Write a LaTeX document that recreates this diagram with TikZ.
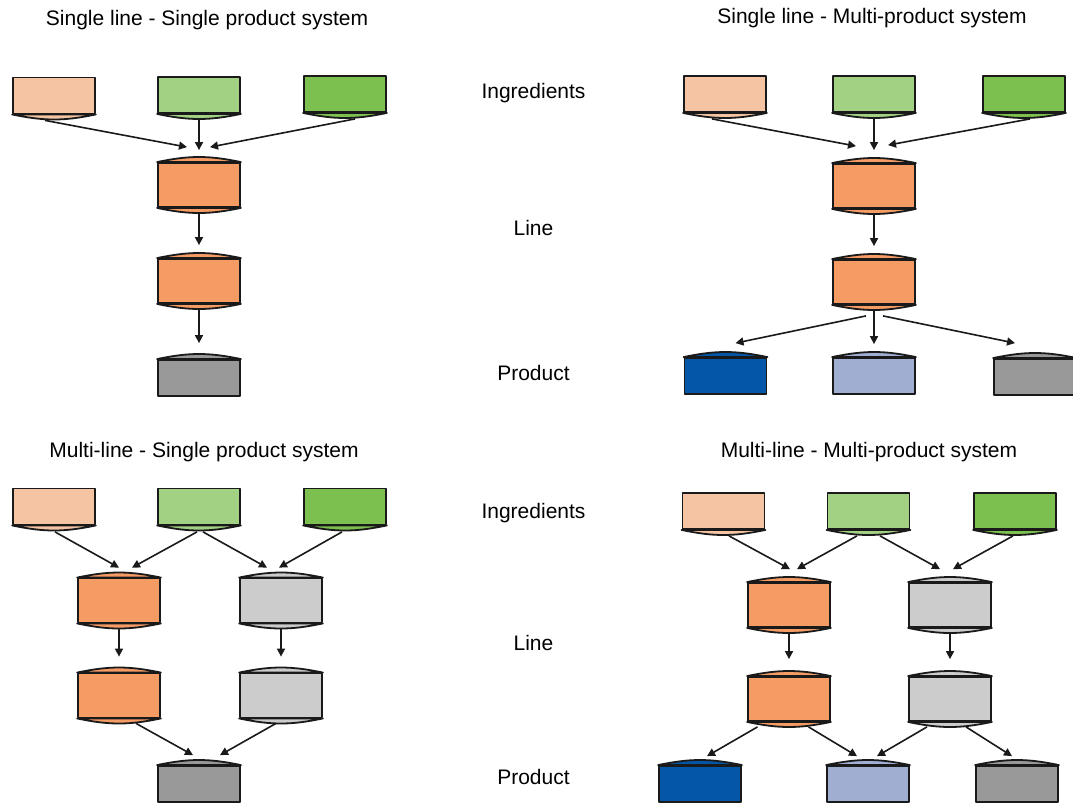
\documentclass[tikz,border=0pt]{standalone}
\usepackage{fontspec}
\setmainfont{Liberation Sans}
\usetikzlibrary{arrows.meta}
\definecolor{peach}{RGB}{245,197,163}
\definecolor{lgreen}{RGB}{163,209,132}
\definecolor{dgreen}{RGB}{124,192,80}
\definecolor{orng}{RGB}{244,156,100}
\definecolor{pgray}{RGB}{153,153,153}
\definecolor{lgray}{RGB}{204,204,204}
\definecolor{dblue}{RGB}{4,87,168}
\definecolor{lblue}{RGB}{160,174,210}
\definecolor{edge}{RGB}{26,26,26}
\tikzset{
  capline/.style={draw=edge, line width=1.8pt, line join=round},
  ingr/.style={capline, minimum width=82pt, minimum height=36pt, inner sep=0pt},
  tank/.style={capline, minimum width=82pt, minimum height=44pt, inner sep=0pt},
  prod/.style={capline, minimum width=82pt, minimum height=36pt, inner sep=0pt},
  feed/.style={draw=edge, line width=1.6pt, -{Triangle[length=8pt,width=8pt]}},
  lbl/.style={anchor=base, font=\fontsize{21}{25}\selectfont, text=black}
}
\newcommand{\ingbox}[4]{%
  \node[ingr, fill=#4] (#1) at (#2,#3) {};
  \filldraw[capline, fill=#4] (#1.south west) to[bend right=12] (#1.south east) -- cycle;}
\newcommand{\linetank}[4]{%
  \node[tank, fill=#4] (#1) at (#2,#3) {};
  \filldraw[capline, fill=#4] (#1.north west) to[bend left=12] (#1.north east) -- cycle;
  \filldraw[capline, fill=#4] (#1.south west) to[bend right=12] (#1.south east) -- cycle;}
\newcommand{\prodtank}[4]{%
  \node[prod, fill=#4] (#1) at (#2,#3) {};
  \filldraw[capline, fill=#4] (#1.north west) to[bend left=12] (#1.north east) -- cycle;}
\begin{document}
\begin{tikzpicture}[x=1pt, y=-1pt]
      \path[use as bounding box, fill=white] (0,0) rectangle (1073,804);
      \node[lbl] (titleSS) at (207,25) {Single line - Single product system};
      \node[lbl] (titleSM) at (872,23.5) {Single line - Multi-product system};
      \node[lbl] (titleMS) at (204,457) {Multi-line - Single product system};
      \node[lbl] (titleMM) at (869,457) {Multi-line - Multi-product system};
      \node[lbl] (ingTop) at (533.5,98) {Ingredients};
      \node[lbl] (lineTop) at (533.5,235) {Line};
      \node[lbl] (prodTop) at (533.5,380.5) {Product};
      \node[lbl] (ingBot) at (533.5,518) {Ingredients};
      \node[lbl] (lineBot) at (533.5,650.5) {Line};
      \node[lbl] (prodBot) at (533.5,784.5) {Product};
      \ingbox{ssA}{54}{95.5}{peach}
      \ingbox{ssB}{199}{95}{lgreen}
      \ingbox{ssC}{345}{94}{dgreen}
      \linetank{ssL1}{199}{185}{orng}
      \linetank{ssL2}{199}{281}{orng}
      \prodtank{ssP}{199}{378}{pgray}
      \draw[feed] ([xshift=-9pt,yshift=-6pt]ssA.south) -- ([xshift=-12pt,yshift=15pt]ssL1.north);
      \draw[feed] ([yshift=-6pt]ssB.south) -- ([yshift=12pt]ssL1.north);
      \draw[feed] ([xshift=10pt,yshift=-6pt]ssC.south) -- ([xshift=11pt,yshift=15pt]ssL1.north);
      \draw[feed] ([yshift=-5pt]ssL1.south) -- ([yshift=13pt]ssL2.north);
      \draw[feed] ([yshift=-5pt]ssL2.south) -- ([yshift=16pt]ssP.north);
      \ingbox{smA}{725}{94}{peach}
      \ingbox{smB}{874}{94}{lgreen}
      \ingbox{smC}{1024}{94}{dgreen}
      \linetank{smL1}{874}{186}{orng}
      \linetank{smL2}{874}{282}{orng}
      \prodtank{smP1}{725.5}{376}{dblue}
      \prodtank{smP2}{874}{376}{lblue}
      \prodtank{smP3}{1035}{377}{pgray}
      \draw[feed] ([xshift=-13pt,yshift=-6pt]smA.south) -- ([xshift=-18pt,yshift=17pt]smL1.north);
      \draw[feed] ([yshift=-6pt]smB.south) -- ([yshift=13pt]smL1.north);
      \draw[feed] ([xshift=6pt,yshift=-6pt]smC.south) -- ([xshift=14pt,yshift=18pt]smL1.north);
      \draw[feed] ([yshift=-5pt]smL1.south) -- ([yshift=13pt]smL2.north);
      \draw[feed] ([xshift=-8pt,yshift=-11pt]smL2.south) -- ([xshift=10pt,yshift=14pt]smP1.north);
      \draw[feed] ([yshift=-6pt]smL2.south) -- ([yshift=13pt]smP2.north);
      \draw[feed] ([xshift=9pt,yshift=-11pt]smL2.south) -- ([xshift=-20pt,yshift=15pt]smP3.north);
      \ingbox{msA}{54}{506.5}{peach}
      \ingbox{msB}{199}{506.5}{lgreen}
      \ingbox{msC}{345}{506.5}{dgreen}
      \linetank{msL1}{119}{600.5}{orng}
      \linetank{msL2}{281}{600.5}{lgray}
      \linetank{msL3}{119}{695.5}{orng}
      \linetank{msL4}{281}{695.5}{lgray}
      \prodtank{msP}{199}{784}{pgray}
      \draw[feed] ([xshift=1pt,yshift=-6.5pt]msA.south) -- ([yshift=10pt]msL1.north);
      \draw[feed] ([xshift=-2pt,yshift=-6.5pt]msB.south) -- ([xshift=13pt,yshift=10pt]msL1.north);
      \draw[feed] ([xshift=4pt,yshift=-6.5pt]msB.south) -- ([xshift=-14pt,yshift=10pt]msL2.north);
      \draw[feed] ([xshift=-3pt,yshift=-6.5pt]msC.south) -- ([xshift=-2pt,yshift=10pt]msL2.north);
      \draw[feed] ([yshift=-5pt]msL1.south) -- ([yshift=16pt]msL3.north);
      \draw[feed] ([yshift=-5pt]msL2.south) -- ([yshift=16pt]msL4.north);
      \draw[feed] ([xshift=17pt,yshift=-5pt]msL3.south) -- ([xshift=-6pt,yshift=10pt]msP.north);
      \draw[feed] ([xshift=-5pt,yshift=-5pt]msL4.south) -- ([xshift=21pt,yshift=10pt]msP.north);
      \ingbox{mmA}{723.5}{511}{peach}
      \ingbox{mmB}{868.5}{511}{lgreen}
      \ingbox{mmC}{1015}{511}{dgreen}
      \linetank{mmL1}{789}{605}{orng}
      \linetank{mmL2}{950}{605}{lgray}
      \linetank{mmL3}{789}{699}{orng}
      \linetank{mmL4}{950}{699}{lgray}
      \prodtank{mmP1}{700}{784}{dblue}
      \prodtank{mmP2}{868}{784}{lblue}
      \prodtank{mmP3}{1017}{784}{pgray}
      \draw[feed] ([xshift=5.5pt,yshift=-6pt]mmA.south) -- ([xshift=1pt,yshift=13pt]mmL1.north);
      \draw[feed] ([xshift=-11.5pt,yshift=-6pt]mmB.south) -- ([xshift=8pt,yshift=13pt]mmL1.north);
      \draw[feed] ([xshift=11.5pt,yshift=-6pt]mmB.south) -- ([xshift=-10pt,yshift=13pt]mmL2.north);
      \draw[feed] ([xshift=-2pt,yshift=-6pt]mmC.south) -- ([xshift=3pt,yshift=13pt]mmL2.north);
      \draw[feed] ([yshift=-5pt]mmL1.south) -- ([yshift=17pt]mmL3.north);
      \draw[feed] ([yshift=-5pt]mmL2.south) -- ([yshift=17pt]mmL4.north);
      \draw[feed] ([xshift=-31.5pt,yshift=-5pt]mmL3.south) -- ([xshift=7pt,yshift=9pt]mmP1.north);
      \draw[feed] ([xshift=19.5pt,yshift=-5pt]mmL3.south) -- ([xshift=-11pt,yshift=9pt]mmP2.north);
      \draw[feed] ([xshift=-23pt,yshift=-5pt]mmL4.south) -- ([xshift=9pt,yshift=9pt]mmP2.north);
      \draw[feed] ([xshift=16pt,yshift=-5pt]mmL4.south) -- ([xshift=-5pt,yshift=9pt]mmP3.north);
    \end{tikzpicture}
\end{document}
